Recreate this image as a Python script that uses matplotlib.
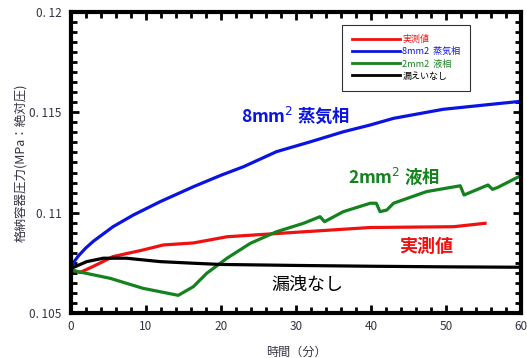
import matplotlib
matplotlib.use("Agg")
import matplotlib.pyplot as plt
from matplotlib.ticker import MultipleLocator

plt.rcParams['font.family'] = ['Noto Sans CJK JP', 'DejaVu Sans']

# Measured pressure
t_meas = [0, 1.2, 2.9, 5.6, 9.6, 12.3, 16.3, 18.5, 20.8, 27.4, 39.9, 51, 55.2]
p_meas = [0.10715, 0.10702, 0.10731, 0.10781, 0.10814, 0.10839, 0.10849,
          0.10864, 0.10880, 0.10896, 0.10926, 0.10930, 0.10947]

# 8 mm^2 vapour-phase leak
t_vap = [0, 0.5, 1, 2, 3, 5.6, 8.3, 11.9, 16.3, 19.9, 23, 27.4, 31.9, 36.3,
         39.9, 43, 49.6, 56.3, 60]
p_vap = [0.10725, 0.10760, 0.10785, 0.10825, 0.10858, 0.10930, 0.10988,
         0.11055, 0.11129, 0.11185, 0.11229, 0.11304, 0.11353, 0.11403,
         0.11437, 0.11470, 0.11515, 0.11541, 0.11555]

# 2 mm^2 liquid-phase leak
t_liq = [0, 1.6, 5.2, 9.6, 14.3, 16.3, 18.1, 19.9, 20.8, 23.9, 27.4, 31,
         33.2, 33.8, 36.3, 39.9, 40.7, 41.2, 42.1, 43, 47.4, 51.9, 52.4,
         55.6, 56.2, 56.9, 60]
p_liq = [0.10714, 0.10701, 0.10673, 0.10623, 0.10588, 0.10631, 0.10698,
         0.10748, 0.10773, 0.10847, 0.10905, 0.10947, 0.10980, 0.10955,
         0.11005, 0.11047, 0.11047, 0.11005, 0.11013, 0.11047, 0.11105,
         0.11134, 0.11088, 0.11138, 0.11116, 0.11126, 0.11185]

# No leak
t_none = [0, 2.1, 4.3, 7.4, 11.9, 16.3, 19.9, 30, 40, 50, 60]
p_none = [0.10722, 0.10756, 0.10773, 0.10773, 0.10756, 0.10748, 0.10742,
          0.10737, 0.10733, 0.10730, 0.10728]

x_ticks = [0, 10, 20, 30, 40, 50, 60]
x_labels = ["0", "10", "20", "30", "40", "50", "60"]
y_ticks = [0.105, 0.11, 0.115, 0.12]
y_labels = ["0. 105", "0. 11", "0. 115", "0. 12"]

RED = '#ee1111'
BLUE = '#0a14e0'
GREEN = '#14821e'
LABEL_GREY = '#333344'

fig = plt.figure(figsize=(5.27, 3.58), dpi=100)
ax = fig.add_axes([0.1347, 0.1257, 0.854, 0.8408])

lw = 2.3
ax.plot(t_meas, p_meas, color=RED, lw=lw, label='実測値')
ax.plot(t_vap, p_vap, color=BLUE, lw=lw, label='8mm2  蒸気相')
ax.plot(t_liq, p_liq, color=GREEN, lw=lw, label='2mm2  液相')
ax.plot(t_none, p_none, color='black', lw=lw, label='漏えいなし')

ax.set_xlim(0, 60)
ax.set_ylim(0.105, 0.12)
ax.set_xticks(x_ticks)
ax.set_xticklabels(x_labels)
ax.set_yticks(y_ticks)
ax.set_yticklabels(y_labels)
ax.xaxis.set_minor_locator(MultipleLocator(2))
ax.yaxis.set_minor_locator(MultipleLocator(0.0005))

for s in ax.spines.values():
    s.set_linewidth(3)
ax.tick_params(which='both', direction='in', top=True, right=True,
               colors='black', labelcolor=LABEL_GREY, labelsize=8.5)
ax.tick_params(which='major', length=6, width=2)
ax.tick_params(which='minor', length=4, width=2)
ax.tick_params(axis='x', which='major', pad=5)
ax.tick_params(axis='y', which='major', pad=7)

ax.set_xlabel('時間（分）', fontsize=8.7, color=LABEL_GREY, labelpad=9)
ax.set_ylabel('格納容器圧力(MPa：絶対圧)', fontsize=9, color=LABEL_GREY,
              labelpad=1)

# Curve annotations
ax.text(29.9, 0.11487, '8mm$^2$ 蒸気相', color=BLUE, fontsize=12.5,
        fontweight='bold', ha='center', va='center')
ax.text(43.1, 0.11182, '2mm$^2$ 液相', color=GREEN, fontsize=12.5,
        fontweight='bold', ha='center', va='center')
ax.text(47.3, 0.10834, '実測値', color=RED, fontsize=13,
        fontweight='bold', ha='center', va='center')
ax.text(31.5, 0.10640, '漏洩なし', color='black', fontsize=13,
        ha='center', va='center')

leg = ax.legend(loc='upper left', bbox_to_anchor=(0.602, 0.957),
                fontsize=6.5, handlelength=5.3, handletextpad=0.3,
                labelspacing=0.35, borderpad=1.1, borderaxespad=0,
                frameon=True, fancybox=False, labelcolor='linecolor')
leg.get_frame().set_edgecolor('black')
leg.get_frame().set_linewidth(0.8)
for h in leg.get_lines():
    h.set_linewidth(2)

fig.savefig('out.png', dpi=100)
